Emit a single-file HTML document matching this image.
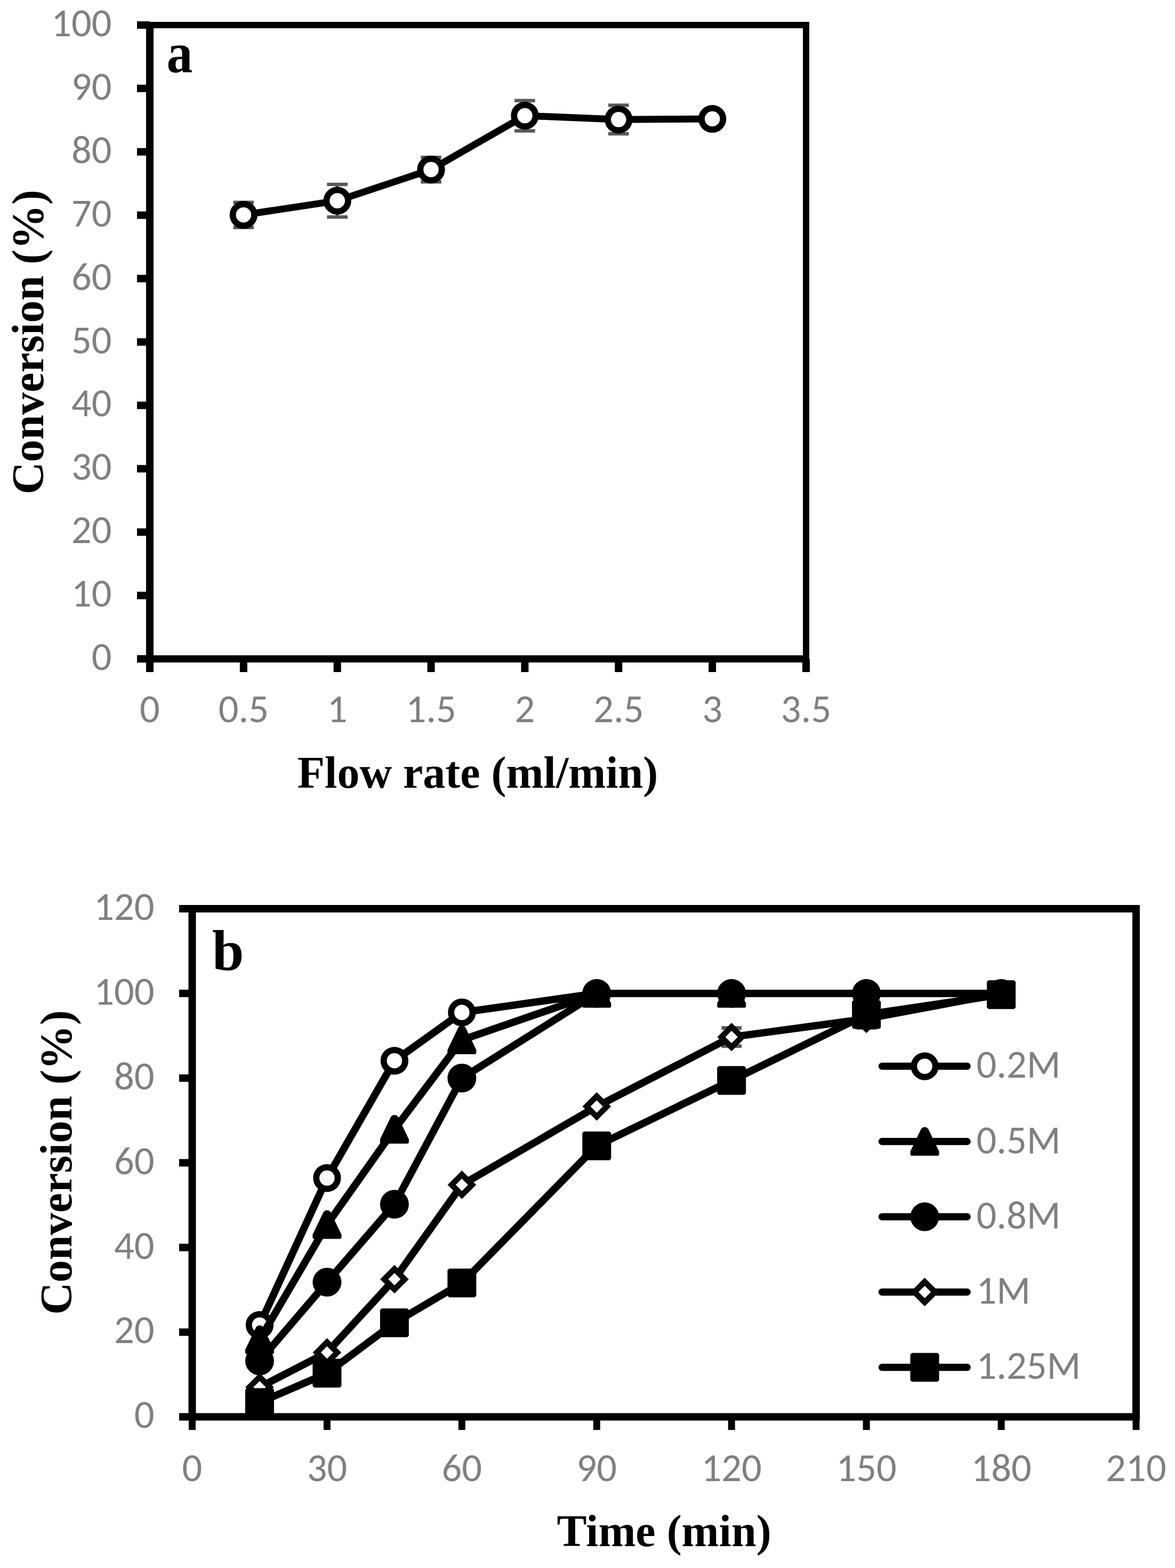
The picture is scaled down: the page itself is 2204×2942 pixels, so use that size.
<!DOCTYPE html>
<html><head><meta charset="utf-8"><title>Conversion charts</title>
<style>html,body{margin:0;padding:0;background:#fff;}svg{display:block;}</style></head>
<body>
<svg width="2204" height="2942" viewBox="0 0 2204 2942">
<rect width="2204" height="2942" fill="#fff"/>
<rect x="281.0" y="47.0" width="1231.0" height="1189.25" fill="none" stroke="#000" stroke-width="12"/>
<line x1="281.0" y1="41.0" x2="281.0" y2="1243.25" stroke="#000" stroke-width="14"/>
<line x1="274.0" y1="1236.25" x2="1518.0" y2="1236.25" stroke="#000" stroke-width="13.5"/>
<line x1="257" y1="1236.25" x2="281.0" y2="1236.25" stroke="#000" stroke-width="14"/>
<text x="209.5" y="1257.15" text-anchor="end" font-family="Carlito, 'Liberation Sans', sans-serif" font-size="74.5" fill="#808080">0</text>
<line x1="257" y1="1117.33" x2="281.0" y2="1117.33" stroke="#000" stroke-width="14"/>
<text x="209.5" y="1138.23" text-anchor="end" font-family="Carlito, 'Liberation Sans', sans-serif" font-size="74.5" fill="#808080">10</text>
<line x1="257" y1="998.40" x2="281.0" y2="998.40" stroke="#000" stroke-width="14"/>
<text x="209.5" y="1019.30" text-anchor="end" font-family="Carlito, 'Liberation Sans', sans-serif" font-size="74.5" fill="#808080">20</text>
<line x1="257" y1="879.48" x2="281.0" y2="879.48" stroke="#000" stroke-width="14"/>
<text x="209.5" y="900.38" text-anchor="end" font-family="Carlito, 'Liberation Sans', sans-serif" font-size="74.5" fill="#808080">30</text>
<line x1="257" y1="760.55" x2="281.0" y2="760.55" stroke="#000" stroke-width="14"/>
<text x="209.5" y="781.45" text-anchor="end" font-family="Carlito, 'Liberation Sans', sans-serif" font-size="74.5" fill="#808080">40</text>
<line x1="257" y1="641.62" x2="281.0" y2="641.62" stroke="#000" stroke-width="14"/>
<text x="209.5" y="662.52" text-anchor="end" font-family="Carlito, 'Liberation Sans', sans-serif" font-size="74.5" fill="#808080">50</text>
<line x1="257" y1="522.70" x2="281.0" y2="522.70" stroke="#000" stroke-width="14"/>
<text x="209.5" y="543.60" text-anchor="end" font-family="Carlito, 'Liberation Sans', sans-serif" font-size="74.5" fill="#808080">60</text>
<line x1="257" y1="403.77" x2="281.0" y2="403.77" stroke="#000" stroke-width="14"/>
<text x="209.5" y="424.67" text-anchor="end" font-family="Carlito, 'Liberation Sans', sans-serif" font-size="74.5" fill="#808080">70</text>
<line x1="257" y1="284.85" x2="281.0" y2="284.85" stroke="#000" stroke-width="14"/>
<text x="209.5" y="305.75" text-anchor="end" font-family="Carlito, 'Liberation Sans', sans-serif" font-size="74.5" fill="#808080">80</text>
<line x1="257" y1="165.92" x2="281.0" y2="165.92" stroke="#000" stroke-width="14"/>
<text x="209.5" y="186.82" text-anchor="end" font-family="Carlito, 'Liberation Sans', sans-serif" font-size="74.5" fill="#808080">90</text>
<line x1="257" y1="47.00" x2="281.0" y2="47.00" stroke="#000" stroke-width="14"/>
<text x="209.5" y="67.90" text-anchor="end" font-family="Carlito, 'Liberation Sans', sans-serif" font-size="74.5" fill="#808080">100</text>
<line x1="281.00" y1="1236.25" x2="281.00" y2="1261" stroke="#000" stroke-width="14"/>
<text x="281.00" y="1355.3" text-anchor="middle" font-family="Carlito, 'Liberation Sans', sans-serif" font-size="74.5" fill="#808080">0</text>
<line x1="456.86" y1="1236.25" x2="456.86" y2="1261" stroke="#000" stroke-width="14"/>
<text x="456.86" y="1355.3" text-anchor="middle" font-family="Carlito, 'Liberation Sans', sans-serif" font-size="74.5" fill="#808080">0.5</text>
<line x1="632.71" y1="1236.25" x2="632.71" y2="1261" stroke="#000" stroke-width="14"/>
<text x="632.71" y="1355.3" text-anchor="middle" font-family="Carlito, 'Liberation Sans', sans-serif" font-size="74.5" fill="#808080">1</text>
<line x1="808.57" y1="1236.25" x2="808.57" y2="1261" stroke="#000" stroke-width="14"/>
<text x="808.57" y="1355.3" text-anchor="middle" font-family="Carlito, 'Liberation Sans', sans-serif" font-size="74.5" fill="#808080">1.5</text>
<line x1="984.43" y1="1236.25" x2="984.43" y2="1261" stroke="#000" stroke-width="14"/>
<text x="984.43" y="1355.3" text-anchor="middle" font-family="Carlito, 'Liberation Sans', sans-serif" font-size="74.5" fill="#808080">2</text>
<line x1="1160.29" y1="1236.25" x2="1160.29" y2="1261" stroke="#000" stroke-width="14"/>
<text x="1160.29" y="1355.3" text-anchor="middle" font-family="Carlito, 'Liberation Sans', sans-serif" font-size="74.5" fill="#808080">2.5</text>
<line x1="1336.14" y1="1236.25" x2="1336.14" y2="1261" stroke="#000" stroke-width="14"/>
<text x="1336.14" y="1355.3" text-anchor="middle" font-family="Carlito, 'Liberation Sans', sans-serif" font-size="74.5" fill="#808080">3</text>
<line x1="1512.00" y1="1236.25" x2="1512.00" y2="1261" stroke="#000" stroke-width="14"/>
<text x="1512.00" y="1355.3" text-anchor="middle" font-family="Carlito, 'Liberation Sans', sans-serif" font-size="74.5" fill="#808080">3.5</text>
<g stroke="#595959" stroke-width="6.5" fill="none"><line x1="456.86" y1="379.68" x2="456.86" y2="426.68" stroke-width="6"/><line x1="437.56" y1="379.68" x2="476.16" y2="379.68"/><line x1="437.56" y1="426.68" x2="476.16" y2="426.68"/></g>
<g stroke="#595959" stroke-width="6.5" fill="none"><line x1="632.71" y1="346.06" x2="632.71" y2="407.26" stroke-width="6"/><line x1="613.41" y1="346.06" x2="652.01" y2="346.06"/><line x1="613.41" y1="407.26" x2="652.01" y2="407.26"/></g>
<g stroke="#595959" stroke-width="6.5" fill="none"><line x1="808.57" y1="295.15" x2="808.57" y2="341.15" stroke-width="6"/><line x1="789.27" y1="295.15" x2="827.87" y2="295.15"/><line x1="789.27" y1="341.15" x2="827.87" y2="341.15"/></g>
<g stroke="#595959" stroke-width="6.5" fill="none"><line x1="984.43" y1="188.66" x2="984.43" y2="245.46" stroke-width="6"/><line x1="965.13" y1="188.66" x2="1003.73" y2="188.66"/><line x1="965.13" y1="245.46" x2="1003.73" y2="245.46"/></g>
<g stroke="#595959" stroke-width="6.5" fill="none"><line x1="1160.29" y1="197.62" x2="1160.29" y2="251.02" stroke-width="6"/><line x1="1140.99" y1="197.62" x2="1179.59" y2="197.62"/><line x1="1140.99" y1="251.02" x2="1179.59" y2="251.02"/></g>
<polyline fill="none" stroke="#000" stroke-width="13" stroke-linejoin="round" points="456.86,403.18 632.71,376.66 808.57,318.15 984.43,217.06 1160.29,224.32 1336.14,223.01"/>
<circle cx="456.86" cy="403.18" r="20.2" fill="#fff" stroke="#000" stroke-width="11.8"/>
<circle cx="632.71" cy="376.66" r="20.2" fill="#fff" stroke="#000" stroke-width="11.8"/>
<circle cx="808.57" cy="318.15" r="20.2" fill="#fff" stroke="#000" stroke-width="11.8"/>
<circle cx="984.43" cy="217.06" r="20.2" fill="#fff" stroke="#000" stroke-width="11.8"/>
<circle cx="1160.29" cy="224.32" r="20.2" fill="#fff" stroke="#000" stroke-width="11.8"/>
<circle cx="1336.14" cy="223.01" r="20.2" fill="#fff" stroke="#000" stroke-width="11.8"/>
<text transform="translate(312.5,134.5) scale(0.93,1)" font-family="'Liberation Serif', serif" font-weight="bold" font-size="105" fill="#000">a</text>
<text x="896" y="1477.8" text-anchor="middle" font-family="'Liberation Serif', serif" font-weight="bold" font-size="84" fill="#000">Flow rate (ml/min)</text>
<text transform="translate(81,641.8) rotate(-90)" text-anchor="middle" font-family="'Liberation Serif', serif" font-weight="bold" font-size="84" fill="#000">Conversion (%)</text>
<rect x="360.5" y="1705.0" width="1770.5" height="953.4000000000001" fill="none" stroke="#000" stroke-width="14"/>
<line x1="360.5" y1="1698.0" x2="360.5" y2="2664.9" stroke="#000" stroke-width="13"/>
<line x1="354.0" y1="2658.4" x2="2138.0" y2="2658.4" stroke="#000" stroke-width="13"/>
<line x1="336" y1="2658.40" x2="360.5" y2="2658.40" stroke="#000" stroke-width="14"/>
<text x="289.5" y="2679.30" text-anchor="end" font-family="Carlito, 'Liberation Sans', sans-serif" font-size="74.5" fill="#808080">0</text>
<line x1="336" y1="2499.50" x2="360.5" y2="2499.50" stroke="#000" stroke-width="14"/>
<text x="289.5" y="2520.40" text-anchor="end" font-family="Carlito, 'Liberation Sans', sans-serif" font-size="74.5" fill="#808080">20</text>
<line x1="336" y1="2340.60" x2="360.5" y2="2340.60" stroke="#000" stroke-width="14"/>
<text x="289.5" y="2361.50" text-anchor="end" font-family="Carlito, 'Liberation Sans', sans-serif" font-size="74.5" fill="#808080">40</text>
<line x1="336" y1="2181.70" x2="360.5" y2="2181.70" stroke="#000" stroke-width="14"/>
<text x="289.5" y="2202.60" text-anchor="end" font-family="Carlito, 'Liberation Sans', sans-serif" font-size="74.5" fill="#808080">60</text>
<line x1="336" y1="2022.80" x2="360.5" y2="2022.80" stroke="#000" stroke-width="14"/>
<text x="289.5" y="2043.70" text-anchor="end" font-family="Carlito, 'Liberation Sans', sans-serif" font-size="74.5" fill="#808080">80</text>
<line x1="336" y1="1863.90" x2="360.5" y2="1863.90" stroke="#000" stroke-width="14"/>
<text x="289.5" y="1884.80" text-anchor="end" font-family="Carlito, 'Liberation Sans', sans-serif" font-size="74.5" fill="#808080">100</text>
<line x1="336" y1="1705.00" x2="360.5" y2="1705.00" stroke="#000" stroke-width="14"/>
<text x="289.5" y="1725.90" text-anchor="end" font-family="Carlito, 'Liberation Sans', sans-serif" font-size="74.5" fill="#808080">120</text>
<line x1="360.50" y1="2658.4" x2="360.50" y2="2683" stroke="#000" stroke-width="13"/>
<text x="360.50" y="2778.5" text-anchor="middle" font-family="Carlito, 'Liberation Sans', sans-serif" font-size="74.5" fill="#808080">0</text>
<line x1="613.43" y1="2658.4" x2="613.43" y2="2683" stroke="#000" stroke-width="13"/>
<text x="613.43" y="2778.5" text-anchor="middle" font-family="Carlito, 'Liberation Sans', sans-serif" font-size="74.5" fill="#808080">30</text>
<line x1="866.36" y1="2658.4" x2="866.36" y2="2683" stroke="#000" stroke-width="13"/>
<text x="866.36" y="2778.5" text-anchor="middle" font-family="Carlito, 'Liberation Sans', sans-serif" font-size="74.5" fill="#808080">60</text>
<line x1="1119.29" y1="2658.4" x2="1119.29" y2="2683" stroke="#000" stroke-width="13"/>
<text x="1119.29" y="2778.5" text-anchor="middle" font-family="Carlito, 'Liberation Sans', sans-serif" font-size="74.5" fill="#808080">90</text>
<line x1="1372.21" y1="2658.4" x2="1372.21" y2="2683" stroke="#000" stroke-width="13"/>
<text x="1372.21" y="2778.5" text-anchor="middle" font-family="Carlito, 'Liberation Sans', sans-serif" font-size="74.5" fill="#808080">120</text>
<line x1="1625.14" y1="2658.4" x2="1625.14" y2="2683" stroke="#000" stroke-width="13"/>
<text x="1625.14" y="2778.5" text-anchor="middle" font-family="Carlito, 'Liberation Sans', sans-serif" font-size="74.5" fill="#808080">150</text>
<line x1="1878.07" y1="2658.4" x2="1878.07" y2="2683" stroke="#000" stroke-width="13"/>
<text x="1878.07" y="2778.5" text-anchor="middle" font-family="Carlito, 'Liberation Sans', sans-serif" font-size="74.5" fill="#808080">180</text>
<line x1="2131.00" y1="2658.4" x2="2131.00" y2="2683" stroke="#000" stroke-width="13"/>
<text x="2131.00" y="2778.5" text-anchor="middle" font-family="Carlito, 'Liberation Sans', sans-serif" font-size="74.5" fill="#808080">210</text>
<polyline fill="none" stroke="#000" stroke-width="13.8" stroke-linejoin="round" points="486.96,2485.99 613.43,2210.30 739.89,1990.23 866.36,1899.65 1119.29,1863.90 1372.21,1863.90 1625.14,1863.90 1878.07,1863.90"/>
<circle cx="486.96" cy="2485.99" r="20.2" fill="#fff" stroke="#000" stroke-width="11.8"/>
<circle cx="613.43" cy="2210.30" r="20.2" fill="#fff" stroke="#000" stroke-width="11.8"/>
<circle cx="739.89" cy="1990.23" r="20.2" fill="#fff" stroke="#000" stroke-width="11.8"/>
<circle cx="866.36" cy="1899.65" r="20.2" fill="#fff" stroke="#000" stroke-width="11.8"/>
<circle cx="1119.29" cy="1863.90" r="20.2" fill="#fff" stroke="#000" stroke-width="11.8"/>
<circle cx="1372.21" cy="1863.90" r="20.2" fill="#fff" stroke="#000" stroke-width="11.8"/>
<circle cx="1625.14" cy="1863.90" r="20.2" fill="#fff" stroke="#000" stroke-width="11.8"/>
<circle cx="1878.07" cy="1863.90" r="20.2" fill="#fff" stroke="#000" stroke-width="11.8"/>
<polyline fill="none" stroke="#000" stroke-width="13.8" stroke-linejoin="round" points="486.96,2513.80 613.43,2297.70 739.89,2118.93 866.36,1951.30 1119.29,1863.90 1372.21,1863.90 1625.14,1863.90 1878.07,1863.90"/>
<path transform="translate(486.96,2513.80)" d="M7.2,-22.46L27,18.6L27,23.8A3,3 0 0 1 24,26.8L-24,26.8A3,3 0 0 1 -27,23.8L-27,18.6L-7.2,-22.46A8,8 0 0 1 7.2,-22.46Z" fill="#000"/>
<path transform="translate(613.43,2297.70)" d="M7.2,-22.46L27,18.6L27,23.8A3,3 0 0 1 24,26.8L-24,26.8A3,3 0 0 1 -27,23.8L-27,18.6L-7.2,-22.46A8,8 0 0 1 7.2,-22.46Z" fill="#000"/>
<path transform="translate(739.89,2118.93)" d="M7.2,-22.46L27,18.6L27,23.8A3,3 0 0 1 24,26.8L-24,26.8A3,3 0 0 1 -27,23.8L-27,18.6L-7.2,-22.46A8,8 0 0 1 7.2,-22.46Z" fill="#000"/>
<path transform="translate(866.36,1951.30)" d="M7.2,-22.46L27,18.6L27,23.8A3,3 0 0 1 24,26.8L-24,26.8A3,3 0 0 1 -27,23.8L-27,18.6L-7.2,-22.46A8,8 0 0 1 7.2,-22.46Z" fill="#000"/>
<path transform="translate(1119.29,1863.90)" d="M7.2,-22.46L27,18.6L27,23.8A3,3 0 0 1 24,26.8L-24,26.8A3,3 0 0 1 -27,23.8L-27,18.6L-7.2,-22.46A8,8 0 0 1 7.2,-22.46Z" fill="#000"/>
<path transform="translate(1372.21,1863.90)" d="M7.2,-22.46L27,18.6L27,23.8A3,3 0 0 1 24,26.8L-24,26.8A3,3 0 0 1 -27,23.8L-27,18.6L-7.2,-22.46A8,8 0 0 1 7.2,-22.46Z" fill="#000"/>
<path transform="translate(1625.14,1863.90)" d="M7.2,-22.46L27,18.6L27,23.8A3,3 0 0 1 24,26.8L-24,26.8A3,3 0 0 1 -27,23.8L-27,18.6L-7.2,-22.46A8,8 0 0 1 7.2,-22.46Z" fill="#000"/>
<path transform="translate(1878.07,1863.90)" d="M7.2,-22.46L27,18.6L27,23.8A3,3 0 0 1 24,26.8L-24,26.8A3,3 0 0 1 -27,23.8L-27,18.6L-7.2,-22.46A8,8 0 0 1 7.2,-22.46Z" fill="#000"/>
<polyline fill="none" stroke="#000" stroke-width="13.8" stroke-linejoin="round" points="486.96,2553.53 613.43,2405.75 739.89,2259.56 866.36,2022.80 1119.29,1863.90 1372.21,1863.90 1625.14,1863.90 1878.07,1863.90"/>
<circle cx="486.96" cy="2553.53" r="27" fill="#000"/>
<circle cx="613.43" cy="2405.75" r="27" fill="#000"/>
<circle cx="739.89" cy="2259.56" r="27" fill="#000"/>
<circle cx="866.36" cy="2022.80" r="27" fill="#000"/>
<circle cx="1119.29" cy="1863.90" r="27" fill="#000"/>
<circle cx="1372.21" cy="1863.90" r="27" fill="#000"/>
<circle cx="1625.14" cy="1863.90" r="27" fill="#000"/>
<circle cx="1878.07" cy="1863.90" r="27" fill="#000"/>
<g stroke="#595959" stroke-width="7"><line x1="1353.41" y1="1928.73" x2="1391.01" y2="1928.73"/><line x1="1353.41" y1="1962.73" x2="1391.01" y2="1962.73"/></g>
<g stroke="#595959" stroke-width="7"><line x1="1606.34" y1="1894.57" x2="1643.94" y2="1894.57"/><line x1="1606.34" y1="1928.57" x2="1643.94" y2="1928.57"/></g>
<polyline fill="none" stroke="#000" stroke-width="13.8" stroke-linejoin="round" points="486.96,2602.78 613.43,2537.64 739.89,2400.19 866.36,2223.01 1119.29,2076.03 1372.21,1945.73 1625.14,1911.57 1878.07,1863.90"/>
<polygon points="486.96,2583.59 506.16,2602.78 486.96,2621.98 467.76,2602.78" fill="#fff" stroke="#0a0a0a" stroke-width="10.8" stroke-linejoin="miter"/>
<polygon points="613.43,2518.44 632.63,2537.64 613.43,2556.84 594.23,2537.64" fill="#fff" stroke="#0a0a0a" stroke-width="10.8" stroke-linejoin="miter"/>
<polygon points="739.89,2380.99 759.09,2400.19 739.89,2419.39 720.69,2400.19" fill="#fff" stroke="#0a0a0a" stroke-width="10.8" stroke-linejoin="miter"/>
<polygon points="866.36,2203.81 885.56,2223.01 866.36,2242.21 847.16,2223.01" fill="#fff" stroke="#0a0a0a" stroke-width="10.8" stroke-linejoin="miter"/>
<polygon points="1119.29,2056.83 1138.49,2076.03 1119.29,2095.23 1100.09,2076.03" fill="#fff" stroke="#0a0a0a" stroke-width="10.8" stroke-linejoin="miter"/>
<polygon points="1372.21,1926.53 1391.41,1945.73 1372.21,1964.93 1353.01,1945.73" fill="#fff" stroke="#0a0a0a" stroke-width="10.8" stroke-linejoin="miter"/>
<polygon points="1625.14,1892.37 1644.34,1911.57 1625.14,1930.77 1605.94,1911.57" fill="#fff" stroke="#0a0a0a" stroke-width="10.8" stroke-linejoin="miter"/>
<polygon points="1878.07,1844.70 1897.27,1863.90 1878.07,1883.10 1858.87,1863.90" fill="#fff" stroke="#0a0a0a" stroke-width="10.8" stroke-linejoin="miter"/>
<polyline fill="none" stroke="#000" stroke-width="13.8" stroke-linejoin="round" points="486.96,2631.39 613.43,2576.57 739.89,2482.02 866.36,2407.34 1119.29,2149.92 1372.21,2027.17 1625.14,1903.62 1878.07,1866.28"/>
<rect x="462.96" y="2607.39" width="48" height="48" fill="#000" stroke="#000" stroke-width="6" stroke-linejoin="bevel"/>
<rect x="589.43" y="2552.57" width="48" height="48" fill="#000" stroke="#000" stroke-width="6" stroke-linejoin="bevel"/>
<rect x="715.89" y="2458.02" width="48" height="48" fill="#000" stroke="#000" stroke-width="6" stroke-linejoin="bevel"/>
<rect x="842.36" y="2383.34" width="48" height="48" fill="#000" stroke="#000" stroke-width="6" stroke-linejoin="bevel"/>
<rect x="1095.29" y="2125.92" width="48" height="48" fill="#000" stroke="#000" stroke-width="6" stroke-linejoin="bevel"/>
<rect x="1348.21" y="2003.17" width="48" height="48" fill="#000" stroke="#000" stroke-width="6" stroke-linejoin="bevel"/>
<rect x="1601.14" y="1879.62" width="48" height="48" fill="#000" stroke="#000" stroke-width="6" stroke-linejoin="bevel"/>
<rect x="1854.07" y="1842.28" width="48" height="48" fill="#000" stroke="#000" stroke-width="6" stroke-linejoin="bevel"/>
<text x="398" y="1820" font-family="'Liberation Serif', serif" font-weight="bold" font-size="107" fill="#000">b</text>
<line x1="1654.5" y1="2000.60" x2="1814" y2="2000.60" stroke="#000" stroke-width="13.5" stroke-linecap="round"/>
<circle cx="1734.50" cy="2000.60" r="20.2" fill="#fff" stroke="#000" stroke-width="11.8"/>
<text x="1831.5" y="2022.40" font-family="Carlito, 'Liberation Sans', sans-serif" font-size="74.5" fill="#808080">0.2M</text>
<line x1="1654.5" y1="2141.80" x2="1814" y2="2141.80" stroke="#000" stroke-width="13.5" stroke-linecap="round"/>
<path transform="translate(1734.50,2141.80)" d="M7.2,-22.46L27,18.6L27,23.8A3,3 0 0 1 24,26.8L-24,26.8A3,3 0 0 1 -27,23.8L-27,18.6L-7.2,-22.46A8,8 0 0 1 7.2,-22.46Z" fill="#000"/>
<text x="1831.5" y="2163.60" font-family="Carlito, 'Liberation Sans', sans-serif" font-size="74.5" fill="#808080">0.5M</text>
<line x1="1654.5" y1="2283.00" x2="1814" y2="2283.00" stroke="#000" stroke-width="13.5" stroke-linecap="round"/>
<circle cx="1734.50" cy="2283.00" r="27" fill="#000"/>
<text x="1831.5" y="2304.80" font-family="Carlito, 'Liberation Sans', sans-serif" font-size="74.5" fill="#808080">0.8M</text>
<line x1="1654.5" y1="2424.20" x2="1814" y2="2424.20" stroke="#000" stroke-width="13.5" stroke-linecap="round"/>
<polygon points="1734.50,2405.00 1753.70,2424.20 1734.50,2443.40 1715.30,2424.20" fill="#fff" stroke="#0a0a0a" stroke-width="10.8" stroke-linejoin="miter"/>
<text x="1831.5" y="2446.00" font-family="Carlito, 'Liberation Sans', sans-serif" font-size="74.5" fill="#808080">1M</text>
<line x1="1654.5" y1="2565.40" x2="1814" y2="2565.40" stroke="#000" stroke-width="13.5" stroke-linecap="round"/>
<rect x="1710.50" y="2541.40" width="48" height="48" fill="#000" stroke="#000" stroke-width="6" stroke-linejoin="bevel"/>
<text x="1831.5" y="2587.20" font-family="Carlito, 'Liberation Sans', sans-serif" font-size="74.5" fill="#808080">1.25M</text>
<text x="1245.6" y="2900.5" text-anchor="middle" font-family="'Liberation Serif', serif" font-weight="bold" font-size="84" fill="#000">Time (min)</text>
<text transform="translate(134.2,2181) rotate(-90)" text-anchor="middle" font-family="'Liberation Serif', serif" font-weight="bold" font-size="84" fill="#000">Conversion (%)</text>
</svg>
</body></html>
